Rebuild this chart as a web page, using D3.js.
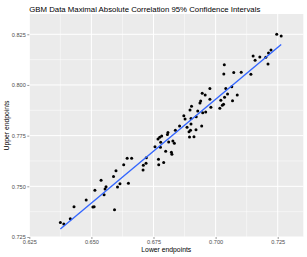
<!DOCTYPE html>
<html><head><meta charset="utf-8">
<script src="https://cdn.jsdelivr.net/npm/d3@7"></script>
<style>body{margin:0;background:#fff}svg{display:block}text{font-family:"Liberation Sans",Arial,sans-serif}</style>
</head><body>
<script>
const title = "GBM Data Maximal Absolute Correlation 95% Confidence Intervals";
const xLabel = "Lower endpoints";
const yLabel = "Upper endpoints";
const xTicks = [0.625, 0.650, 0.675, 0.700, 0.725];
const yTicks = [0.725, 0.750, 0.775, 0.800, 0.825];
const lower = [0.6375,0.6389,0.6415,0.6430,0.6479,0.6506,0.6511,0.6593,0.6514,0.6539,0.6551,0.6555,0.6559,0.6589,0.6599,0.6605,0.6615,0.6630,0.6649,0.6644,0.6662,0.6708,0.6709,0.6720,0.6721,0.6756,0.6770,0.6771,0.6791,0.6799,0.6822,0.6824,0.6778,0.6768,0.6775,0.6783,0.6779,0.6808,0.6811,0.6806,0.6828,0.6834,0.6838,0.6855,0.6885,0.6901,0.6893,0.6899,0.6921,0.6944,0.6895,0.6913,0.7246,0.7264,0.7151,0.7159,0.7178,0.7202,0.7213,0.7223,0.7211,0.7035,0.7033,0.7073,0.7103,0.7142,0.6977,0.6946,0.6958,0.7041,0.7065,0.6940,0.6937,0.6977,0.7048,0.7036,0.7021,0.7068,0.7087,0.6903,0.6897,0.6928,0.6948,0.6960,0.6981,0.7032,0.7027,0.7017,0.6872,0.6877,0.6901,0.6922];
const upper = [0.7321,0.7314,0.7340,0.7399,0.7433,0.7398,0.7399,0.7385,0.7480,0.7530,0.7459,0.7487,0.7498,0.7549,0.7577,0.7497,0.7513,0.7607,0.7515,0.7638,0.7638,0.7581,0.7604,0.7614,0.7641,0.7695,0.7633,0.7607,0.7617,0.7673,0.7668,0.7658,0.7693,0.7733,0.7742,0.7748,0.7717,0.7765,0.7719,0.7755,0.7724,0.7712,0.7776,0.7798,0.7791,0.7807,0.7769,0.7776,0.7779,0.7798,0.7743,0.7745,0.8250,0.8242,0.8143,0.8122,0.8138,0.8137,0.8158,0.8173,0.8103,0.8100,0.8054,0.8061,0.8063,0.8053,0.7982,0.7959,0.7951,0.7982,0.7991,0.7921,0.7911,0.7929,0.7955,0.7939,0.7924,0.7922,0.7951,0.7895,0.7877,0.7872,0.7863,0.7867,0.7890,0.7905,0.7900,0.7885,0.7848,0.7832,0.7834,0.7843];

const W = 307, H = 257;
const P = {l: 29.3, r: 303.3, t: 14, b: 237};
const svg = d3.select("body").append("svg").attr("width", W).attr("height", H);

const x = d3.scaleLinear().domain([0.625, 0.7353]).range([P.l, P.r]);
const y = d3.scaleLinear().domain([0.725, 0.835]).range([P.b, P.t]);

svg.append("rect").attr("x", P.l).attr("y", P.t).attr("width", P.r - P.l).attr("height", P.b - P.t).attr("fill", "#EBEBEB");

const g = svg.append("g");
const xMinor = xTicks.map(v => v + 0.0125).filter(v => v < x.domain()[1]);
const yMinor = yTicks.map(v => v + 0.0125).filter(v => v < y.domain()[1]);
g.selectAll(".xm").data(xMinor).join("line").attr("x1", d => x(d)).attr("x2", d => x(d)).attr("y1", P.t).attr("y2", P.b).attr("stroke", "#fff").attr("stroke-width", 0.5);
g.selectAll(".ym").data(yMinor).join("line").attr("y1", d => y(d)).attr("y2", d => y(d)).attr("x1", P.l).attr("x2", P.r).attr("stroke", "#fff").attr("stroke-width", 0.5);
g.selectAll(".xg").data(xTicks).join("line").attr("x1", d => x(d)).attr("x2", d => x(d)).attr("y1", P.t).attr("y2", P.b).attr("stroke", "#fff").attr("stroke-width", 1);
g.selectAll(".yg").data(yTicks).join("line").attr("y1", d => y(d)).attr("y2", d => y(d)).attr("x1", P.l).attr("x2", P.r).attr("stroke", "#fff").attr("stroke-width", 1);

const xAxis = svg.append("g").attr("transform", `translate(0,${P.b})`)
  .call(d3.axisBottom(x).tickValues(xTicks).tickFormat(d3.format(".3f")).tickSize(2).tickPadding(1.5));
const yAxis = svg.append("g").attr("transform", `translate(${P.l},0)`)
  .call(d3.axisLeft(y).tickValues(yTicks).tickFormat(d3.format(".3f")).tickSize(2).tickPadding(1.5));
[xAxis, yAxis].forEach(a => {
  a.select(".domain").remove();
  a.selectAll(".tick line").attr("stroke", "#333333").attr("stroke-width", 0.5);
  a.selectAll(".tick text").attr("fill", "#4D4D4D").style("font-size", "5.6px");
});

const data = lower.map((v, i) => ({x: v, y: upper[i]}));
svg.append("g").selectAll("circle").data(data).join("circle")
  .attr("cx", d => x(d.x)).attr("cy", d => y(d.y)).attr("r", 1.5).attr("fill", "#000");

const mx = d3.mean(lower), my = d3.mean(upper);
const sxy = d3.sum(data, d => (d.x - mx) * (d.y - my));
const sxx = d3.sum(data, d => (d.x - mx) ** 2);
const b = sxy / sxx, a0 = my - b * mx;
const [x0, x1] = d3.extent(lower);
svg.append("line").attr("x1", x(x0)).attr("y1", y(a0 + b * x0)).attr("x2", x(x1)).attr("y2", y(a0 + b * x1))
  .attr("stroke", "#3366FF").attr("stroke-width", 1.4);

svg.append("text").attr("x", P.l).attr("y", 12).text(title).style("font-size", "7.8px").attr("fill", "#000");
svg.append("text").attr("x", (P.l + P.r) / 2).attr("y", 252).attr("text-anchor", "middle").text(xLabel).style("font-size", "6.8px");
svg.append("text").attr("transform", `translate(9,${(P.t + P.b) / 2}) rotate(-90)`).attr("text-anchor", "middle").text(yLabel).style("font-size", "6.8px");
</script>
</body></html>
